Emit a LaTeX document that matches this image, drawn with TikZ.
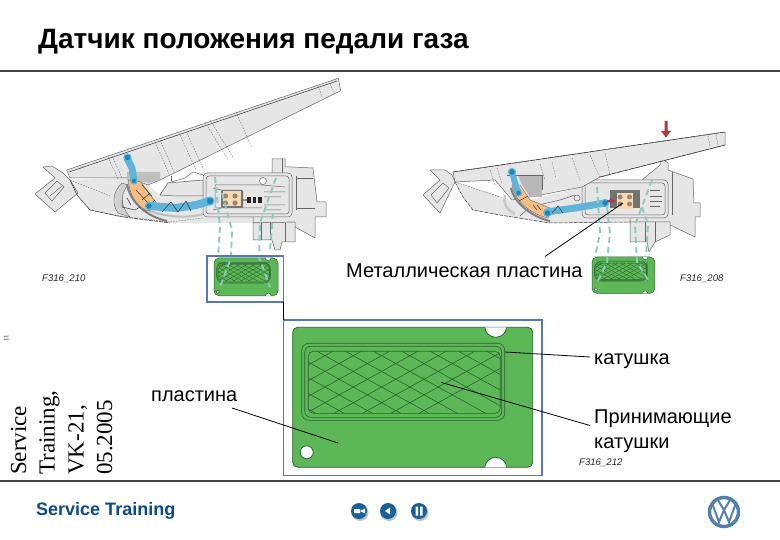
\documentclass[tikz,border=0pt]{standalone}
\usepackage{fontspec}
\setmainfont{Liberation Sans}
\newfontfamily\serifface{Liberation Serif}
\usetikzlibrary{calc}
\definecolor{plategreen}{HTML}{5CB857}
\definecolor{platedark}{HTML}{2E5F33}
\definecolor{framebl}{HTML}{5A78AE}
\definecolor{rulegrey}{HTML}{444444}
\definecolor{housefill}{HTML}{E6E6E6}
\definecolor{houseline}{HTML}{666666}
\definecolor{linkblue}{HTML}{5FB4DA}
\definecolor{pivotblue}{HTML}{1C86BC}
\definecolor{sectororange}{HTML}{F6BE85}
\definecolor{peach}{HTML}{F7D9B5}
\definecolor{dotbrown}{HTML}{9C8468}
\definecolor{teal}{HTML}{8CCAC0}
\definecolor{navyvw}{HTML}{0B4A8A}
\definecolor{btnblue}{HTML}{17609A}
\definecolor{arrowred}{HTML}{B03A3A}
\tikzset{
  housing/.style={fill=housefill,draw=houseline,line width=.5pt,line join=round},
  hardline/.style={draw=houseline,line width=.5pt},
  softdash/.style={draw=houseline,line width=.35pt,dash pattern=on 1.6pt off 1.2pt},
  blackbar/.style={draw=black!80,line width=.5pt},
  tealdash/.style={draw=teal,line width=1.9pt,dash pattern=on 6pt off 4pt},
  leader/.style={draw=black,line width=.8pt},
  bluelink/.style={draw=linkblue,line cap=round,line join=round},
  pivot/.style={circle,fill=pivotblue,draw=linkblue,line width=1.2pt,minimum size=7pt,inner sep=0pt},
  framebox/.style={draw=framebl,line width=1.6pt,fill=none,inner sep=0pt,outer sep=0pt,anchor=north west},
  caption/.style={font=\fontsize{9.6}{9.6}\selectfont\itshape,inner sep=0pt,anchor=west,text=black!85},
  bigtext/.style={font=\fontsize{20}{25}\selectfont,inner sep=0pt,anchor=base west,align=left},
  rottext/.style={font=\serifface\fontsize{23}{23}\selectfont,rotate=90,anchor=base west,inner sep=0pt},
  btn/.style={circle,fill=btnblue,minimum size=16pt,inner sep=0pt},
}
% green printed circuit plate, local frame 240 x 140
\newcommand{\greenplate}[2]{%
  \fill[plategreen,draw=platedark,line width=#1,rounded corners=5] (0,0) rectangle (240,140);
  \begin{scope}
    \clip[rounded corners=5] (0,0) rectangle (240,140);
    \fill[white,draw=platedark,line width=#1] (203,-1) circle (11);
    \fill[white,draw=platedark,line width=#1] (203,141) circle (11);
  \end{scope}
  \fill[white,draw=platedark,line width=#1] (14,125) circle (6.5);
  \draw[platedark,line width=#2,rounded corners=7] (9,16) rectangle (212,93);
  \draw[platedark,line width=#2,rounded corners=6] (12,19) rectangle (209,90);
  \begin{scope}
    \clip[rounded corners=5] (15.5,24) rectangle (207.5,86);
    \foreach \k in {-7,...,8}{
      \draw[platedark,line width=#2] (\k*28.3-4,24) -- ++(112,62);
      \draw[platedark,line width=#2] (\k*28.3+12,24) -- ++(-112,62);
    }
  \end{scope}
  \draw[platedark,line width=#2,rounded corners=5] (15.5,24) rectangle (207.5,86);
}
\begin{document}
\begin{tikzpicture}[x=1pt,y=-1pt]
\useasboundingbox (0,0) rectangle (780,540);
\fill[white] (0,0) rectangle (780,540);

% ---- header and footer
\node[inner sep=0pt,anchor=base west,font=\fontsize{28}{28}\selectfont\bfseries] (title) at (38,49) {Датчик положения педали газа};
\coordinate (topl) at (0,71.5); \coordinate (topr) at (780,71.5);
\coordinate (botl) at (0,481); \coordinate (botr) at (780,481);
\draw[rulegrey,line width=2pt] (topl) -- (topr);
\draw[rulegrey,line width=2pt] (botl) -- (botr);
\node[inner sep=0pt,anchor=base west,text=navyvw,font=\fontsize{18}{18}\selectfont\bfseries] (foot) at (36,515) {Service Training};
\node[rotate=90,inner sep=0pt,font=\serifface\fontsize{7}{7}\selectfont,text=black!80] (pg) at (6,338) {11};
\node[rottext] (r1) at (26,475) {Service};
\node[rottext] (r2) at (54.5,475) {Training,};
\node[rottext] (r3) at (83.5,475) {VK-21,};
\node[rottext] (r4) at (112,475) {05.2005};

% ---- LEFT PEDAL ------------------------------------------------
\fill[housefill] (70,180) -- (77,195) -- (90,210) -- (120,217) -- (170,223) -- (253,223) -- (253,180) -- (193,180) -- (168,183) -- (160,195) -- (148,185) -- (130,178) -- cycle;
\draw[housing] (66.7,170) -- (338.3,78.3) -- (340.7,90.7) -- (160,180) -- (148,185) -- (130,178) -- (70,178) -- cycle;
\draw[blackbar] (69,172) -- (337,81);
\draw[housing] (43,167) -- (52,166) -- (63,173) -- (70,180) -- (78,193) -- (55,212) -- (35,194) -- (55,178) -- cycle;
\draw[hardline] (45,193) -- (57,181) -- (64,187) -- (52,201) -- cycle;
\draw[hardline] (50,196) -- (62,186);
\draw[blackbar] (70,180) -- (77,195) -- (90,210);
\draw[softdash] (90,210) -- (120,216) -- (170,222) -- (203,218);
\draw[blackbar,dash pattern=on 4pt off 1pt] (90,210) -- (120,216.5) -- (170,223);
\draw[softdash] (70,180) -- (110,196);
% sliding recess
\draw[fill=black!25,draw=none] (127,172) -- (160,172) -- (160,180) -- (150,183) -- (127,180) -- cycle;
\draw[fill=black!18,draw=houseline,line width=.4pt] (122,183) .. controls (112,192) and (112,205) .. (118,213) -- (130,217) .. controls (120,205) and (120,195) .. (128,185) -- cycle;
\draw[hardline] (160,195) -- (168,183) -- (185,178) -- (193,172) -- (203,175);
\draw[hardline] (171,176) -- (171,181);
\draw[housing] (160,195) -- (168,183) -- (203,180) -- (203,196) -- (176,196) -- cycle;
\draw[black!25,line width=2pt] (147,210) .. controls (168,218) and (190,218) .. (203,214);
% dashed ribs on pedal
\foreach \xa/\ya/\xb/\yb in {108/157/118/179, 112/156/122/178, 155/142/170/176, 160/140/175/174, 180/135/196/170, 187/133/203/168, 205/122/228/160, 210/120/233/157, 236/112/252/148, 318/86/322/97, 330/84/334/92}{
  \draw[softdash] (\xa,\ya) -- (\xb,\yb);
}
% control unit
\draw[housing] (253,223) -- (272,223) -- (293,222) -- (295,227) -- (315,238) -- (315,217) -- (326,217) -- (326,202) -- (317,202) -- (313,168) -- (292,167) -- (285,167) -- (285,159) -- (272,159) -- (272,173) -- (260,178) -- (253,200) -- cycle;
\draw[housing] (253,223) -- (253,240) -- (272,240) -- (275,250) -- (280,250) -- (282,242) -- (295,242) -- (295,222) -- cycle;
\draw[hardline] (261,223) -- (261,240) (270,223) -- (270,240) (285,223) -- (285,242);
\draw[hardline] (282,159) -- (282,173) (296,178) -- (313,178) (296,208) -- (315,208);
\draw[hardline] (296,176) -- (296,210);
\draw[housing,rounded corners=4] (203,173) rectangle (292,217);
\draw[hardline,rounded corners=3] (206,176) rectangle (289,214);
\draw[hardline] (215,185) -- (262,185) -- (264,178) (262,208) -- (216,208) (215,185) -- (215,208);
\draw[hardline] (264,192) -- (285,192) (264,197) -- (281,197) (264,205) -- (285,205) (264,210) -- (281,210) (262,185) -- (285,187);
\draw[hardline,fill=white] (263,181) circle (3.5);
\fill[black!55,rounded corners=1] (221,190) rectangle (243,208);
\fill[peach] (223,191.5) rectangle (241,206.5);
\foreach \p in {(225.5,196),(235,196),(225.5,203),(235,203)} \fill[dotbrown] \p circle (2.6);
\foreach \x in {247,252.5,258} \fill[black!85] (\x,197) rectangle ++(3.5,6);
\fill[black!45] (243,199) -- (247,199) -- (247,201) -- (243,201) -- cycle;
\draw[hardline] (213,188) -- (221,190) (213,210) -- (221,208);
% orange sector + link
\fill[sectororange,draw=houseline,line width=.4pt] (128,180) .. controls (130,195) and (135,205) .. (147,211) -- (160,207) -- (150,195) -- (141,182) -- cycle;
\draw[black!50,line width=2pt] (127,184) .. controls (130,203) and (148,217) .. (167,221);
\draw[blackbar] (136,190) -- (150,205) (142,185) -- (152,196) (142,200) -- (150,193) (131,205) -- (127,198) (150,205) -- (155,200);
\draw[blackbar,fill=none] (122,200) -- (122,207) -- (135,210) -- (140,207);
\draw[bluelink,line width=7pt] (127,158) -- (132,168) -- (134,181);
\draw[bluelink,line width=8pt] (150,206) -- (175,208) -- (196,205) -- (210,201);
\draw[blackbar] (162,212) -- (171,202) -- (178,212) -- (186,201) -- (191,211);
\node[pivot] (lp1) at (127.5,157.5) {};
\node[pivot,minimum size=6pt] (lp2) at (134,181) {};
\node[pivot] (lp3) at (149,206) {};
\node[pivot,minimum size=8pt] (lp4) at (210,201) {};

% ---- RIGHT PEDAL -----------------------------------------------
\fill[housefill] (455,182) -- (463,197) -- (473,210) -- (500,215) -- (550,223) -- (630,222) -- (630,190) -- (582,187) -- (530,200) -- (512,200) -- cycle;
\draw[housing] (660,165) -- (660,157) -- (668,163) -- (668,170) -- (693,179) -- (694,203) -- (700,203) -- (700,217) -- (695,217) -- (695,237) -- (670,225) -- (650,225) -- (630,222) -- (630,190) -- cycle;
\draw[housing] (630,222) -- (630,242) -- (647,242) -- (649,252) -- (655,242) -- (670,235) -- (670,222) -- cycle;
\draw[hardline] (645,222) -- (645,242) (655,222) -- (655,242);
\draw[housing,rounded corners=4] (582,180) rectangle (668,218);
\draw[hardline,rounded corners=3] (585,183) rectangle (665,215);
\draw[hardline] (672,172) -- (672,215);
\draw[hardline] (650,190) -- (660,190) (650,196) -- (662,196) (650,201) -- (662,201) (650,206) -- (660,206);
\draw[housing] (453,172) -- (725,132) -- (725,145) -- (600,177) -- (582,187) -- (530,197) -- (512,200) -- (495,180) -- (455,182) -- cycle;
\draw[blackbar,dash pattern=on 5pt off 1pt] (453,172) -- (725,132);
\draw[blackbar,dash pattern=on 5pt off 1pt] (600,177) -- (725,145);
\draw[housing] (430,170) -- (445,170) -- (452,175) -- (455,182) -- (440,213) -- (423,195) -- (440,180) -- cycle;
\draw[hardline] (431,195) -- (443,183) -- (449,188) -- (437,203) -- cycle;
\draw[blackbar,dash pattern=on 4pt off 1pt] (455,182) -- (463,197) -- (473,210) -- (500,215) -- (550,223) -- (630,222);
\draw[softdash] (455,182) -- (500,197);
\foreach \xa/\ya/\xb/\yb in {490/170/495/185, 497/168/502/183, 540/164/545/180, 552/162/556/178, 572/158/580/180, 590/155/600/178, 605/153/610/175, 708/136/710/146, 716/135/718/145}{
  \draw[softdash] (\xa,\ya) -- (\xb,\yb);
}
\fill[black!28] (518,175) -- (542,175) -- (542,197) -- (530,197) -- (522,185) -- cycle;
\draw[hardline] (507,175) -- (542,175) -- (542,190);
\draw[black!22,line width=2.5pt] (505,195) .. controls (503,202) and (506,210) .. (515,214);
\draw[hardline] (520,216) -- (530,207) -- (560,200) -- (575,195);
\draw[hardline,fill=none] (577,198) circle (3);
\fill[black!55] (610,190) rectangle (640,208);
\fill[peach] (617,193) rectangle (633,209);
\foreach \p in {(620,197),(629.5,197),(620,204),(629.5,204)} \fill[dotbrown] \p circle (2.5);
\fill[sectororange,draw=houseline,line width=.4pt] (512,185) .. controls (514,200) and (530,214) .. (548,218) -- (550,208) -- (530,200) -- (520,185) -- cycle;
\draw[black!50,line width=2pt] (511,188) .. controls (514,203) and (532,217) .. (550,221);
\draw[blackbar] (519,201) -- (528,196) (533,205) -- (537,210) (537,205) -- (541,210);
\draw[bluelink,line width=6pt] (512,172) -- (518,193);
\draw[bluelink,line width=7pt] (547,212) -- (575,208) -- (605,203);
\draw[blackbar] (552,213) -- (558,206) -- (563,213);
\node[pivot] (rp1) at (512,172) {};
\node[pivot,minimum size=6pt] (rp2) at (518.5,193) {};
\node[pivot] (rp3) at (547.5,213) {};
\node[pivot] (rp4) at (605,203) {};
\draw[-latex,arrowred,line width=1.5pt] (607,201) -- (617,201);
% pressing arrow
\fill[arrowred] (664.5,121) rectangle (667.5,131) (661,131) -- (671,131) -- (666,137.5) -- cycle;

% ---- small plates
\begin{scope}[shift={(214,258)},xscale=.267,yscale=.27]
  \greenplate{.5pt}{.35pt}
  \fill[platedark,opacity=.45] (9,16) -- (212,16) -- (190,24) -- (25,24) -- cycle;
\end{scope}
\begin{scope}[shift={(592,257)},xscale=.262,yscale=.26]
  \greenplate{.5pt}{.35pt}
  \fill[platedark,opacity=.45] (207,24) -- (212,16) -- (212,93) -- (207,86) -- cycle;
\end{scope}

% teal sight lines, left
\draw[tealdash] (215,177) -- (220,227) -- (218,257);
\draw[tealdash] (222,193) -- (232,230) -- (231,258) -- (220,287);
\draw[tealdash] (276,178) -- (260,223) -- (259,257) -- (270,287);
\draw[tealdash] (273,213) -- (270,250);
% teal sight lines, right
\draw[tealdash] (597,187) -- (600,233) -- (595,257);
\draw[tealdash] (607,207) -- (610,233) -- (607,262) -- (597,283);
\draw[tealdash] (652,180) -- (635,225) -- (637,262) -- (650,283);
\draw[tealdash] (642,207) -- (648,225) -- (646,257);

% ---- frames and big plate
\node[framebox,minimum width=76.5pt,minimum height=46pt] (smallframe) at (207,256) {};
\node[framebox,minimum width=258.5pt,minimum height=155.5pt] (bigframe) at (283.5,320) {};
\draw[black,line width=.8pt] (smallframe.south east) -- (bigframe.north west);
\begin{scope}[shift={(292.7,327.3)}]
  \greenplate{.8pt}{.6pt}
\end{scope}

% ---- labels and leaders
\node[bigtext] (metal) at (346,278) {Металлическая пластина};
\coordinate (metaltip) at (623,203);
\coordinate (metalfoot) at (545,256.5);
\draw[leader] (metalfoot) -- (metaltip);
\node[bigtext] (coil) at (594,364) {катушка};
\coordinate (coiltip) at (505,352);
\coordinate (coilend) at (590,357);
\draw[leader] (coiltip) -- (coilend);
\node[bigtext] (recv) at (594,448) {Принимающие\\катушки};
\coordinate (recvtip) at (441.5,382.5);
\coordinate (recvend) at (590,425.5);
\draw[leader] (recvtip) -- (recvend);
\node[bigtext] (plate) at (151,402) {пластина};
\coordinate (platestart) at (232,408);
\coordinate (platetip) at (338,443);
\draw[leader] (platestart) -- (platetip);
\node[caption] (cap1) at (42,279) {F316\_210};
\node[caption] (cap2) at (680,279) {F316\_208};
\node[caption] (cap3) at (579,463) {F316\_212};

% ---- buttons
\fill[black!25] (360,512.5) circle (8.5) (389,512.5) circle (8.5) (420,512.5) circle (8.5);
\node[btn] (b1) at (359,511) {};
\node[btn] (b2) at (388,511) {};
\node[btn] (b3) at (419,511) {};
\fill[white] (354,509) rectangle (360,513) (360,511) -- (365,508.5) -- (365,513.5) -- cycle;
\fill[white] (385,511) -- (390,507.5) -- (390,514.5) -- cycle;
\fill[white] (415.5,506.5) rectangle (418,515.5) (420,506.5) rectangle (422.5,515.5);

% ---- VW badge
\node[circle,draw=navyvw!70!white,line width=3.5pt,fill=white,minimum size=29pt,inner sep=0pt] (vw) at (724,512) {};
\draw[navyvw!70!white,line width=2pt,line join=miter] (712,503) -- (719,522) -- (724,510) -- (729,522) -- (736,503);
\draw[navyvw!70!white,line width=2pt,line join=miter] (717,498.5) -- (724,510) -- (731,498.5);
\end{tikzpicture}
\end{document}
